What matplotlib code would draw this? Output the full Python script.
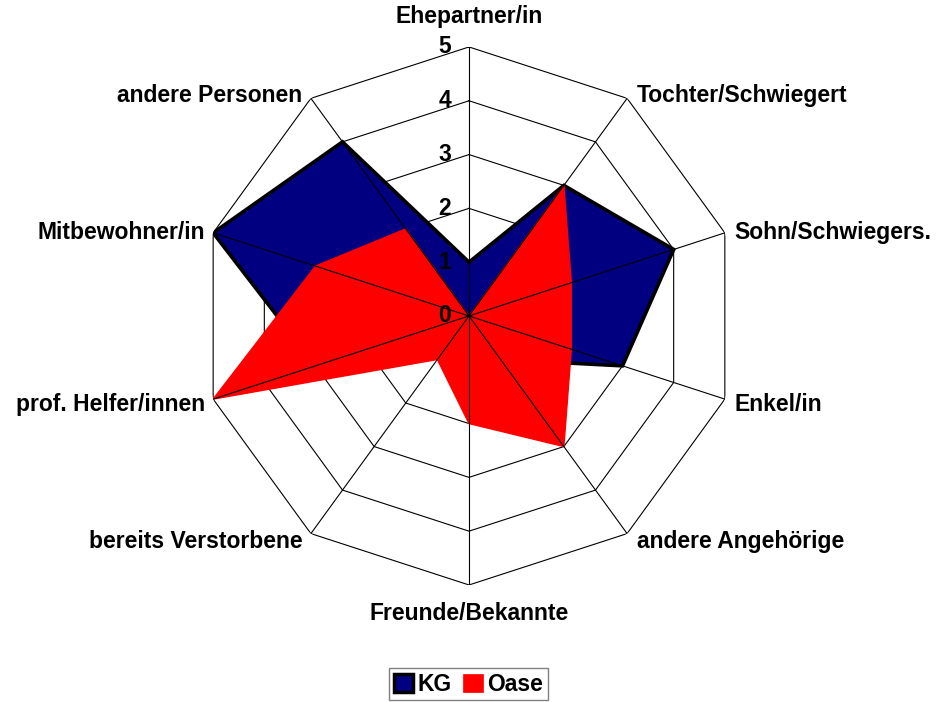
import numpy as np
import matplotlib
matplotlib.use("Agg")
import matplotlib.pyplot as plt
from matplotlib.patches import Patch

plt.rcParams['font.family'] = ['Liberation Sans', 'DejaVu Sans']
plt.rcParams['font.weight'] = 'bold'

# categories and values (scale 0..5)
categories = ['Ehepartner/in', 'Tochter/Schwiegert', 'Sohn/Schwiegers.', 'Enkel/in',
              'andere Angehörige', 'Freunde/Bekannte', 'bereits Verstorbene',
              'prof. Helfer/innen', 'Mitbewohner/in', 'andere Personen']
kg = [1, 3, 4, 3, 1, 1, 0, 3, 5, 4]
oase = [0, 3, 2, 2, 3, 2, 1, 5, 3, 2]
rings = [1, 2, 3, 4, 5]
ring_labels = ['0', '1', '2', '3', '4', '5']

n = len(categories)
angles = np.arange(n) * 2 * np.pi / n
closed = np.append(angles, angles[0])

def close(v):
    return np.append(v, v[0])

fig = plt.figure(figsize=(9.38, 7.02), dpi=100)
ax = fig.add_axes([0.2132, 0.1667, 0.5736, 0.7664], projection='polar')
ax.set_theta_zero_location('N')
ax.set_theta_direction(-1)
ax.set_ylim(0, 5)
ax.grid(False)
ax.set_xticks([])
ax.set_yticks([])
ax.spines['polar'].set_visible(False)

# decagon rings
for r in rings:
    ax.plot(closed, [r] * (n + 1), color='black', lw=0.8, zorder=1)

# series
ax.fill(closed, close(kg), color='#000080', zorder=2)
ax.plot(closed, close(kg), color='black', lw=2.6, zorder=2.5, solid_joinstyle='miter')
ax.fill(closed, close(oase), color='#ff0000', zorder=3)

# spokes on top
for a in angles:
    ax.plot([a, a], [0, 5], color='black', lw=0.8, zorder=4)

fs = 16.5

# radial labels
for i, lab in enumerate(ring_labels):
    ax.annotate(lab, xy=(0, i), xytext=(-13, 0), textcoords='offset points',
                ha='right', va='center', fontsize=fs, fontweight='bold', zorder=5)

# category labels
for a, lab in zip(angles, categories):
    s, c = np.sin(a), np.cos(a)
    if abs(s) < 1e-6:
        ha = 'center'
        dx = 0
        if c > 0:
            va, dy = 'bottom', 14
        else:
            va, dy = 'top', -12
    else:
        ha = 'left' if s > 0 else 'right'
        dx = 7 if s > 0 else -6
        va = 'center'
        if c > 0.5:
            dy = 2
        elif c > 0:
            dy = 0
        elif c > -0.5:
            dy = -4
        else:
            dy = -6
    ax.annotate(lab, xy=(a, 5), xytext=(dx, dy), textcoords='offset points',
                ha=ha, va=va, fontsize=fs, fontweight='bold')

handles = [Patch(facecolor='#000080', edgecolor='black', linewidth=2.5, label='KG'),
           Patch(facecolor='#ff0000', edgecolor='#ff0000', linewidth=0.5, label='Oase')]
leg = fig.legend(handles=handles, loc='upper center', bbox_to_anchor=(0.4995, 1 - 668 / 702),
                 ncol=2, fontsize=fs, frameon=True, fancybox=False,
                 handlelength=0.85, handleheight=0.85, handletextpad=0.2,
                 columnspacing=0.5, borderpad=0.2, borderaxespad=0)
leg.get_frame().set_edgecolor('#606060')
leg.get_frame().set_linewidth(1.0)
for t in leg.get_texts():
    t.set_fontweight('bold')

fig.savefig('out.png', dpi=100, facecolor='white')
